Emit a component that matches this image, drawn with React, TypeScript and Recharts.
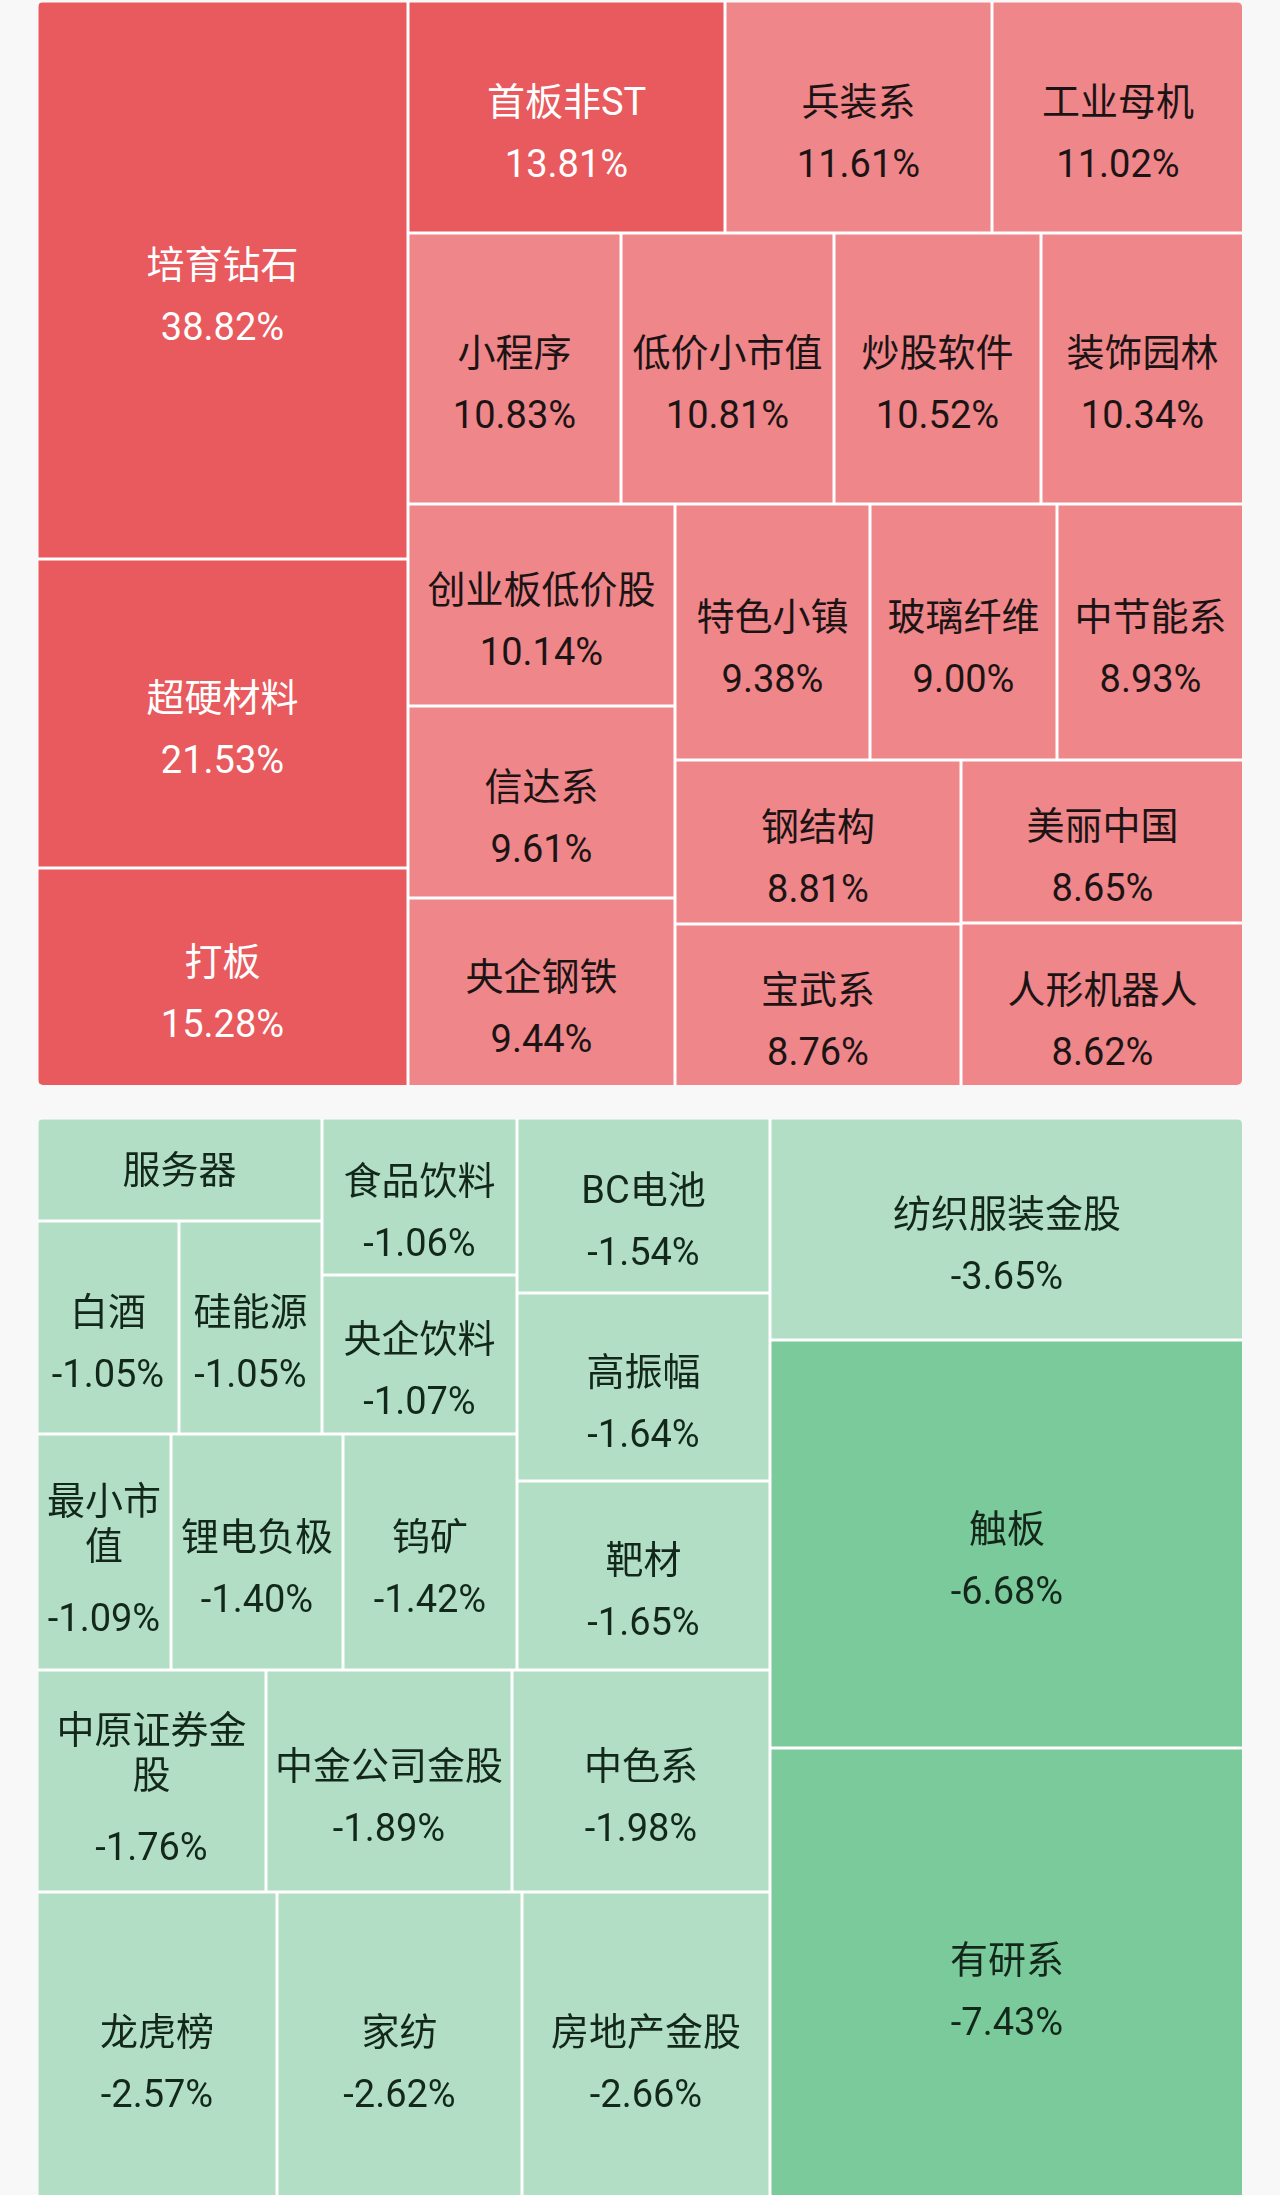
import React from 'react';
import { Treemap } from 'recharts';

// Rising concepts (sorted by change, largest first)
const upNames = [
  '培育钻石', '超硬材料', '打板', '首板非ST', '兵装系', '工业母机', '小程序', '低价小市值',
  '炒股软件', '装饰园林', '创业板低价股', '信达系', '央企钢铁', '特色小镇', '玻璃纤维',
  '中节能系', '钢结构', '宝武系', '美丽中国', '人形机器人',
];
const upValues = [
  38.82, 21.53, 15.28, 13.81, 11.61, 11.02, 10.83, 10.81, 10.52, 10.34, 10.14, 9.61, 9.44,
  9.38, 9.0, 8.93, 8.81, 8.76, 8.65, 8.62,
];

// Falling concepts (sorted by magnitude, largest first)
const downNames = [
  '有研系', '触板', '纺织服装金股', '房地产金股', '家纺', '龙虎榜', '中色系', '中金公司金股',
  '中原证券金股', '靶材', '高振幅', 'BC电池', '钨矿', '锂电负极', '最小市值', '央企饮料',
  '食品饮料', '硅能源', '白酒', '服务器',
];
const downValues = [
  -7.43, -6.68, -3.65, -2.66, -2.62, -2.57, -1.98, -1.89, -1.76, -1.65, -1.64, -1.54, -1.42,
  -1.4, -1.09, -1.07, -1.06, -1.05, -1.05, -1.01,
];

const FONT = "Roboto, 'Noto Sans CJK SC', sans-serif";
const FS = 38;

const upData = upNames.map((name, i) => ({ name, pct: upValues[i], size: Math.abs(upValues[i]) }));
const downData = downNames.map((name, i) => ({ name, pct: downValues[i], size: Math.abs(downValues[i]) }));

function textWidth(s: string): number {
  let w = 0;
  for (const ch of Array.from(s)) w += /[\x00-\x7f]/.test(ch) ? FS * 0.6 : FS;
  return w;
}

function wrapName(s: string, maxW: number): string[] {
  if (textWidth(s) <= maxW) return [s];
  const lines: string[] = [];
  let cur = '';
  for (const ch of Array.from(s)) {
    if (cur && textWidth(cur + ch) > maxW) {
      lines.push(cur);
      cur = ch;
    } else cur += ch;
  }
  if (cur) lines.push(cur);
  return lines;
}

function TreeCell(props: any) {
  const { x, y, width, height, depth, name, pct, kind, flip } = props;
  if (depth !== 1 || width == null || pct == null) return null;
  const vx = x + 1.5;
  const vy = y + 1.5;
  const vw = width - 3;
  const vh = height - 3;
  const strong = kind === 'up' ? pct >= 12 : pct <= -5;
  const fill = kind === 'up' ? (strong ? '#E85A5D' : '#EE868A') : strong ? '#7BCA9B' : '#B1DEC4';
  const color = kind === 'up' ? (strong ? '#ffffff' : '#1c1414') : '#13281b';
  const cx = vx + vw / 2;
  const cy = vy + vh / 2;
  const lines = wrapName(String(name), vw - 12);
  const showValue = vh >= 130;
  let nameCenters: number[];
  let valueCenter = 0;
  if (showValue) {
    if (lines.length === 1) {
      nameCenters = [-16];
      valueCenter = 46;
    } else {
      nameCenters = lines.map((_, i) => -52 + i * 45);
      valueCenter = nameCenters[nameCenters.length - 1] + 72;
    }
  } else {
    nameCenters = lines.map((_, i) => (i - (lines.length - 1) / 2) * 45);
  }
  const base = FS * 0.36;
  return (
    <g>
      <rect x={vx} y={vy} width={vw} height={vh} fill={fill} />
      <g transform={flip ? `rotate(180 ${cx} ${cy})` : undefined}>
        {lines.map((ln, i) => (
          <text
            key={i}
            x={cx}
            y={cy + nameCenters[i] + base}
            textAnchor="middle"
            fill={color}
            fontSize={FS}
            fontFamily={FONT}
          >
            {ln}
          </text>
        ))}
        {showValue && (
          <text
            x={cx}
            y={cy + valueCenter + base}
            textAnchor="middle"
            fill={color}
            fontSize={FS}
            fontFamily={FONT}
          >
            {`${pct.toFixed(2)}%`}
          </text>
        )}
      </g>
    </g>
  );
}

export default function App() {
  return (
    <div
      style={{
        position: 'absolute',
        left: 0,
        top: 0,
        width: 1280,
        height: 2195,
        background: '#f8f8f8',
        overflow: 'hidden',
        fontFamily: FONT,
      }}
    >
      <div
        style={{
          position: 'absolute',
          left: 38,
          top: 2,
          width: 1204,
          height: 1083,
          borderRadius: 5,
          overflow: 'hidden',
          background: '#ffffff',
        }}
      >
        <div style={{ position: 'absolute', left: -1.5, top: -1.5, width: 1207, height: 1086 }}>
          <Treemap
            width={1207}
            height={1086}
            data={upData}
            dataKey="size"
            nameKey="name"
            aspectRatio={1}
            isAnimationActive={false}
            content={(p: any) => <TreeCell {...p} kind="up" />}
          />
        </div>
      </div>
      <div
        style={{
          position: 'absolute',
          left: 38,
          top: 1119,
          width: 1204,
          height: 1076,
          borderRadius: '5px 5px 0 0',
          overflow: 'hidden',
          background: '#ffffff',
        }}
      >
        <div
          style={{
            position: 'absolute',
            left: -1.5,
            top: -1.5,
            width: 1207,
            height: 1084,
            transform: 'rotate(180deg)',
          }}
        >
          <Treemap
            width={1207}
            height={1084}
            data={downData}
            dataKey="size"
            nameKey="name"
            aspectRatio={1.203}
            isAnimationActive={false}
            content={(p: any) => <TreeCell {...p} kind="down" flip />}
          />
        </div>
      </div>
    </div>
  );
}
